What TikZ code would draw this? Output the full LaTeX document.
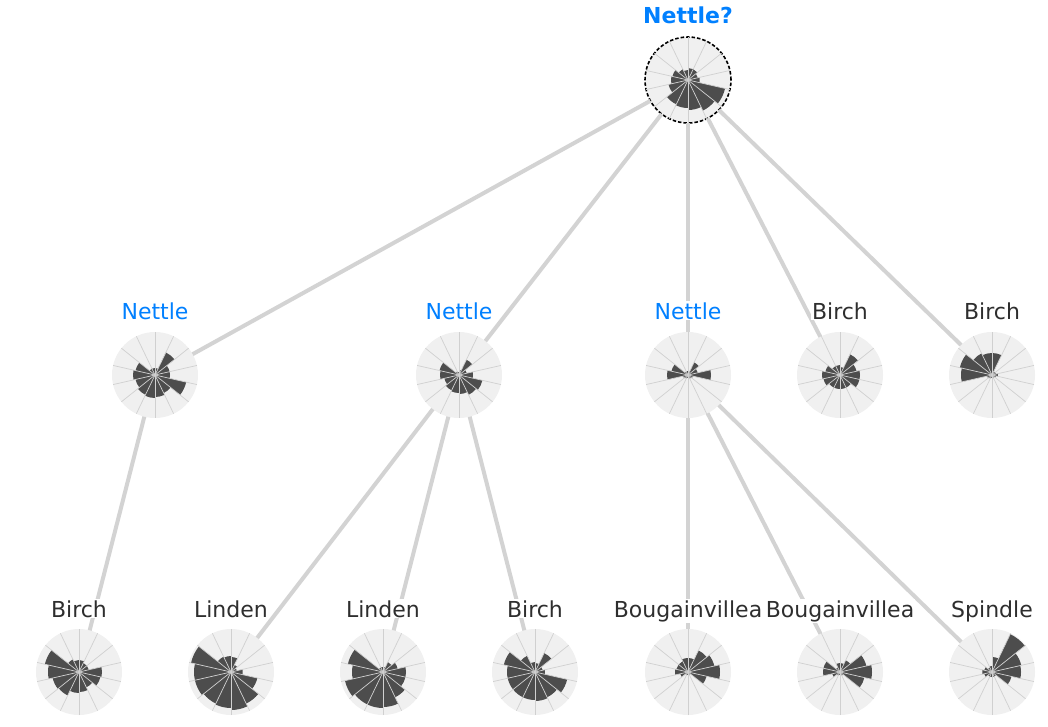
\documentclass[tikz,border=0pt]{standalone}
\usepackage{fontspec}
\setmainfont{DejaVu Sans}
\definecolor{bgc}{HTML}{F0F0F0}
\definecolor{barc}{HTML}{4D4D4D}
\definecolor{spokec}{HTML}{D0D0D0}
\definecolor{edgec}{HTML}{D3D3D3}
\definecolor{labc}{HTML}{2E2E2E}
\definecolor{blu}{HTML}{0080FF}
\tikzset{
  chart/.style={circle, fill=bgc, minimum size=86pt, inner sep=0pt, outer sep=0pt},
  rootchart/.style={chart, draw=black, line width=1.6pt, dash pattern=on 3.5pt off 2pt},
  edge/.style={draw=edgec, line width=4pt},
  lab/.style={fill=white, inner sep=1pt, text=labc, font=\fontsize{22}{26}\selectfont, anchor=base},
  nlab/.style={lab, text=blu},
  bar/.style={fill=barc},
  spoke/.style={draw=spokec, line width=0.7pt}
}
\newcommand{\rosebars}[2]{%
  \foreach \rr [count=\jj from 0] in {#2} {
    \fill[bar] (#1.center) -- ++({\jj*360/14-180/14}:\rr pt)
      arc[start angle={\jj*360/14-180/14}, delta angle={360/14}, radius=\rr pt] -- cycle;
  }
  \foreach \kk in {0,...,13} { \draw[spoke] (#1.center) -- ++({\kk*360/14+180/14}:43pt); }
}
\begin{document}
\begin{tikzpicture}[x=1pt,y=-1pt]
\useasboundingbox (0,0) rectangle (1048,726);
% chart discs
\node[rootchart] (root) at (688,80) {};
\node[chart] (a1) at (155,375) {};
\node[chart] (a2) at (459,375) {};
\node[chart] (a3) at (688,375) {};
\node[chart] (a4) at (840,375) {};
\node[chart] (a5) at (992,375) {};
\node[chart] (b1) at (79,672) {};
\node[chart] (b2) at (231,672) {};
\node[chart] (b3) at (383,672) {};
\node[chart] (b4) at (535,672) {};
\node[chart] (b5) at (688,672) {};
\node[chart] (b6) at (840,672) {};
\node[chart] (b7) at (992,672) {};
% rose bars
\rosebars{root}{12,10,12,12,10,12,16,17,20,27,28,30,34,38}
\rosebars{a1}{15,15,25,7,7,7,20,22,20,22,23,22,20,32}
\rosebars{a2}{14,8,17,5,3,4,20,19,15,17,18,19,22,24}
\rosebars{a3}{23,10,14,4,4,4,17,21,5,4,3,3,4,5}
\rosebars{a4}{20,17,23,8,10,10,15,18,17,14,14,14,14,20}
\rosebars{a5}{6,4,4,22,22,24,33,31,5,4,3,3,3,4}
\rosebars{b1}{23,10,10,12,12,14,35,31,27,26,21,20,17,22}
\rosebars{b2}{12,6,8,15,16,17,41,37,37,35,36,38,35,27}
\rosebars{b3}{23,15,11,5,5,5,36,31,39,36,36,35,28,23}
\rosebars{b4}{10,8,21,9,10,18,32,28,28,28,28,29,28,33}
\rosebars{b5}{32,27,24,14,14,12,12,13,8,3,3,3,3,19}
\rosebars{b6}{32,27,13,9,9,5,17,17,8,4,3,3,4,25}
\rosebars{b7}{29,30,42,15,6,5,8,10,8,5,5,5,5,20}
% edges
\draw[edge] (root) -- (a1);
\draw[edge] (root) -- (a2);
\draw[edge] (root) -- (a3);
\draw[edge] (root) -- (a4);
\draw[edge] (root) -- (a5);
\draw[edge] (a1) -- (b1);
\draw[edge] (a2) -- (b2);
\draw[edge] (a2) -- (b3);
\draw[edge] (a2) -- (b4);
\draw[edge] (a3) -- (b5);
\draw[edge] (a3) -- (b6);
\draw[edge] (a3) -- (b7);
% labels
\node[nlab, font=\fontsize{22}{26}\selectfont\bfseries] (lroot) at (688,23) {Nettle?};
\node[nlab] (la1) at (155,319) {Nettle};
\node[nlab] (la2) at (459,319) {Nettle};
\node[nlab] (la3) at (688,319) {Nettle};
\node[lab] (la4) at (840,319) {Birch};
\node[lab] (la5) at (992,319) {Birch};
\node[lab] (lb1) at (79,617) {Birch};
\node[lab] (lb2) at (231,617) {Linden};
\node[lab] (lb3) at (383,617) {Linden};
\node[lab] (lb4) at (535,617) {Birch};
\node[lab] (lb5) at (688,617) {Bougainvillea};
\node[lab] (lb6) at (840,617) {Bougainvillea};
\node[lab] (lb7) at (992,617) {Spindle};
\end{tikzpicture}
\end{document}
